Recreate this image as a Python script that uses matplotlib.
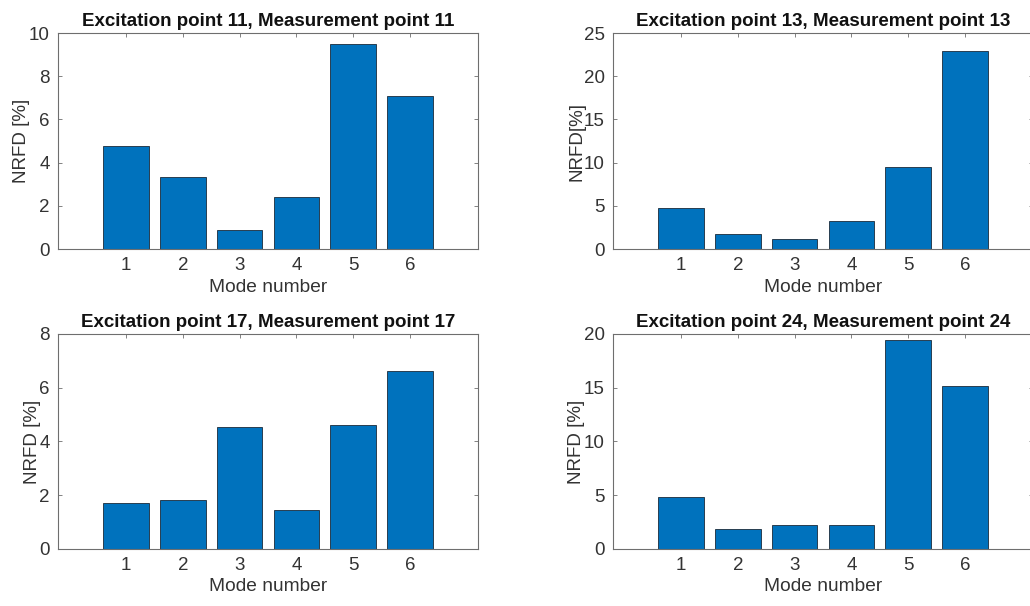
import matplotlib
matplotlib.use("Agg")
import matplotlib.pyplot as plt

plt.rcParams['font.family'] = ['Liberation Sans', 'DejaVu Sans']

modes = [1, 2, 3, 4, 5, 6]

# NRFD per mode for each excitation/measurement point pair
nrfd_11 = [4.75, 3.32, 0.89, 2.41, 9.49, 7.10]
nrfd_13 = [4.71, 1.74, 1.12, 3.24, 9.45, 22.92]
nrfd_17 = [1.71, 1.81, 4.53, 1.46, 4.63, 6.64]
nrfd_24 = [4.80, 1.83, 2.26, 2.26, 19.47, 15.14]

titles = ["Excitation point 11, Measurement point 11",
          "Excitation point 13, Measurement point 13",
          "Excitation point 17, Measurement point 17",
          "Excitation point 24, Measurement point 24"]
ylabels = ["NRFD [%]", "NRFD[%]", "NRFD [%]", "NRFD [%]"]
ymax = [10, 25, 8, 20]
ysteps = [2, 5, 2, 5]

bar_color = '#0072BD'
text_color = '#333333'
axis_color = '#6e6e6e'

fig = plt.figure(figsize=(10.30, 6.06), dpi=100)

positions = [
    [0.0563, 0.5891, 0.4078, 0.3564],
    [0.5951, 0.5891, 0.4078, 0.3564],
    [0.0563, 0.0941, 0.4078, 0.3548],
    [0.5951, 0.0941, 0.4078, 0.3548],
]

for pos, vals, title, ylab, top, step in zip(positions,
                                            [nrfd_11, nrfd_13, nrfd_17, nrfd_24],
                                            titles, ylabels, ymax, ysteps):
    ax = fig.add_axes(pos)
    ax.bar(modes, vals, width=0.8, color=bar_color, edgecolor='#1a2a3a',
           linewidth=0.6, zorder=2)
    ax.set_xlim(-0.2, 7.2)
    ax.set_ylim(0, top)
    ax.set_xticks(modes)
    ax.set_yticks(range(0, top + 1, step))
    ax.tick_params(direction='in', top=True, right=True, length=3,
                   width=0.6, color=axis_color, labelsize=13.5,
                   labelcolor=text_color, pad=6)
    for s in ax.spines.values():
        s.set_color(axis_color)
        s.set_linewidth(0.8)
    ax.set_title(title, fontsize=13.5, fontweight='bold', color='#111111', pad=5)
    ax.set_xlabel("Mode number", fontsize=13.8, color=text_color, labelpad=3)
    ax.set_ylabel(ylab, fontsize=13.5, color=text_color, labelpad=-1)

fig.savefig("out.png", dpi=100)
